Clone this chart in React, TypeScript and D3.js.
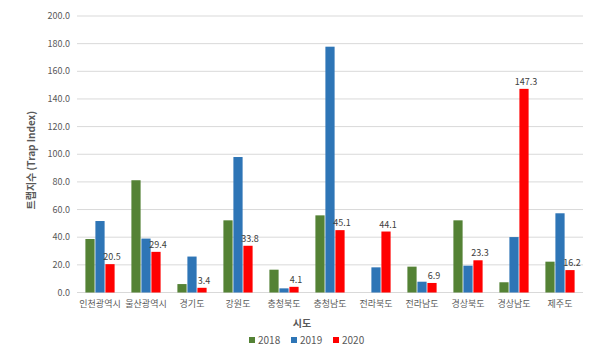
import React from "react";
import * as d3 from "d3";

const categories = ["인천광역시", "울산광역시", "경기도", "강원도", "충청북도", "충청남도", "전라북도", "전라남도", "경상북도", "경상남도", "제주도"];
const years = ["2018", "2019", "2020"];
const values2018 = [38.7, 81.2, 6.1, 52.2, 16.5, 55.8, 0, 18.7, 52.2, 7.4, 22.3];
const values2019 = [51.7, 39.0, 26.0, 98.0, 3.0, 177.8, 18.2, 7.8, 19.4, 40.1, 57.3];
const values2020 = [20.5, 29.4, 3.4, 33.8, 4.1, 45.1, 44.1, 6.9, 23.3, 147.3, 16.2];
const yTicks = [0, 20, 40, 60, 80, 100, 120, 140, 160, 180, 200];
const colors = ["#548235", "#2E75B6", "#FF0000"];

export default function App() {
  const W = 600, H = 356;
  const left = 77, right = 583, top = 16, bottom = 292.5;
  const x = d3.scaleBand<string>().domain(categories).range([left, right]).paddingInner(0).paddingOuter(0);
  const y = d3.scaleLinear().domain([0, 200]).range([bottom, top]);
  const series = [values2018, values2019, values2020];
  const barW = 9.2;
  const step = 10;
  const font = "'Malgun Gothic', 'Noto Sans CJK KR', sans-serif";
  return (
    <svg width={W} height={H} style={{ position: "absolute", left: 0, top: 0, background: "#fff" }} fontFamily={font}>
      {yTicks.map((t) => (
        <g key={t}>
          <line x1={left} x2={right} y1={y(t)} y2={y(t)} stroke="#D9D9D9" strokeWidth={1} />
          <text x={70} y={y(t)} dy="0.35em" textAnchor="end" fontSize={9} fill="#595959">{t.toFixed(1)}</text>
        </g>
      ))}
      {categories.map((c, i) => {
        const cx = (x(c) as number) + x.bandwidth() / 2;
        return (
          <g key={c}>
            {series.map((s, j) => {
              const v = s[i];
              if (v <= 0) return null;
              const bx = cx + (j - 1) * step - barW / 2;
              return <rect key={j} x={bx} y={y(v)} width={barW} height={bottom - y(v)} fill={colors[j]} />;
            })}
            <text x={cx + step + 2} y={y(values2020[i]) - 4} textAnchor="middle" fontSize={9} fill="#404040">{values2020[i].toFixed(1)}</text>
            <text x={cx} y={307} textAnchor="middle" fontSize={9} fill="#595959">{c}</text>
          </g>
        );
      })}
      <text transform={`translate(35,${(top + bottom) / 2 + 6}) rotate(-90)`} textAnchor="middle" fontSize={10} fontWeight="bold" fill="#595959">트랩지수 (Trap Index)</text>
      <text x={302} y={327} textAnchor="middle" fontSize={10} fontWeight="bold" fill="#595959">시도</text>
      {years.map((yr, j) => (
        <g key={yr} transform={`translate(${249 + j * 42},337)`}>
          <rect x={0} y={0} width={6} height={6} fill={colors[j]} />
          <text x={9} y={3} dy="0.35em" fontSize={10} fill="#595959">{yr}</text>
        </g>
      ))}
    </svg>
  );
}
